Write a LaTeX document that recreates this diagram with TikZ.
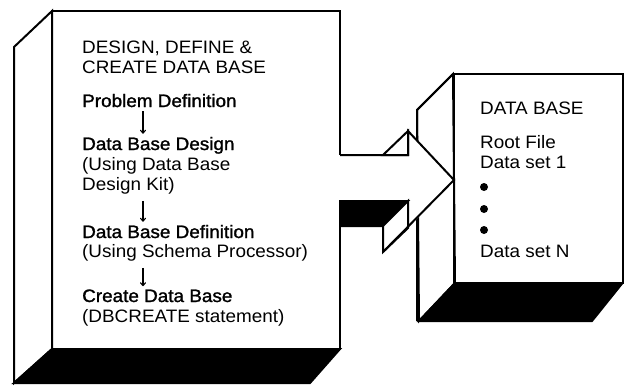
\documentclass[tikz,border=0pt]{standalone}
\usepackage{fontspec}
\setmainfont{Liberation Sans}[FakeStretch=1.05]
\newfontfamily\stepfont{Liberation Sans}[FakeStretch=1.05,FakeBold=1.4]
\usetikzlibrary{arrows.meta}
\begin{document}
\begin{tikzpicture}[x=1pt,y=-1pt,
  edge/.style={line width=2pt,line join=miter,line cap=butt},
  solid face/.style={fill=black,draw=black,line width=2pt,line join=miter},
  open face/.style={fill=white,draw=black,line width=2pt,line join=miter},
  lbl/.style={anchor=base west,inner sep=0pt,font=\fontsize{18}{20}\selectfont},
  step lbl/.style={lbl,font=\stepfont\fontsize{18}{20}\selectfont},
  flow/.style={line width=1.1pt,-{To[length=4pt,width=6pt]}},
  dot/.style={circle,fill=black,inner sep=0pt,minimum size=8pt}]
\useasboundingbox (0,0) rectangle (624,388);

% ---- data base block (right) ----
\fill[open face] (453,74) -- (417,110) -- (419,321) -- (455,283) -- cycle;
\fill[solid face] (455,283) -- (622.5,283) -- (592,321) -- (419,321) -- cycle;
\draw[edge] (453,74) -- (417,110) -- (417,321);
\draw[edge] (454,74) -- (622.5,74) -- (622.5,283) -- (454,283) -- cycle;

% ---- block arrow between the two blocks ----
% front face of shaft and head
\fill[white] (340,155) -- (408,155) -- (408,131) -- (454,180) -- (408,228)
  -- (408,201) -- (340,201) -- cycle;
% underside of shaft
\fill[solid face] (340,201) -- (408,201) -- (383,226) -- (340,226) -- cycle;
% side of the lower barb
\fill[open face] (383,226) -- (408,201) -- (408,228) -- (383,252) -- cycle;
% side of the upper barb
\fill[open face] (383,155) -- (408,131) -- (408,155) -- cycle;
\draw[edge] (340,155) -- (408,155) -- (408,131) -- (454,180) -- (383,252);

% ---- design block (left) ----
\fill[open face] (52,11) -- (14,47) -- (14,383) -- (52,349) -- cycle;
\fill[solid face] (52,349) -- (340,349) -- (310,383) -- (14,383) -- cycle;
\draw[edge] (340,155) -- (340,11) -- (52,11) -- (52,349) -- (340,349) -- (340,226);

% ---- texts of the design block ----
\node[lbl] (h1) at (82,53) {DESIGN, DEFINE \&};
\node[lbl] (h2) at (82,73) {CREATE DATA BASE};
\node[step lbl] (pd) at (82,107) {Problem Definition};
\node[step lbl] (dbd) at (82,150) {Data Base Design};
\node[lbl] (dbd1) at (82,170) {(Using Data Base};
\node[lbl] (dbd2) at (82,190) {Design Kit)};
\node[step lbl] (dbf) at (82,238) {Data Base Definition};
\node[lbl] (dbf1) at (82,257) {(Using Schema Processor)};
\node[step lbl] (cdb) at (82,302) {Create Data Base};
\node[lbl] (cdb1) at (82,322) {(DBCREATE statement)};

\draw[flow] ([xshift=61pt,yshift=-4pt]pd.south west) -- ([xshift=61pt,yshift=3pt]dbd.north west);
\draw[flow] ([xshift=61pt,yshift=-7pt]dbd2.south west) -- ([xshift=61pt,yshift=3pt]dbf.north west);
\draw[flow] ([xshift=61pt,yshift=-7pt]dbf1.south west) -- ([xshift=61pt,yshift=3pt]cdb.north west);

% ---- texts of the data base block ----
\node[lbl] (db) at (480,114) {DATA BASE};
\node[lbl] (rf) at (480,148) {Root File};
\node[lbl] (ds1) at (480,168) {Data set 1};
\node[dot] (d1) at (484,187) {};
\node[dot] (d2) at (484,209) {};
\node[dot] (d3) at (484,230) {};
\node[lbl] (dsn) at (480,257) {Data set N};
\end{tikzpicture}
\end{document}
